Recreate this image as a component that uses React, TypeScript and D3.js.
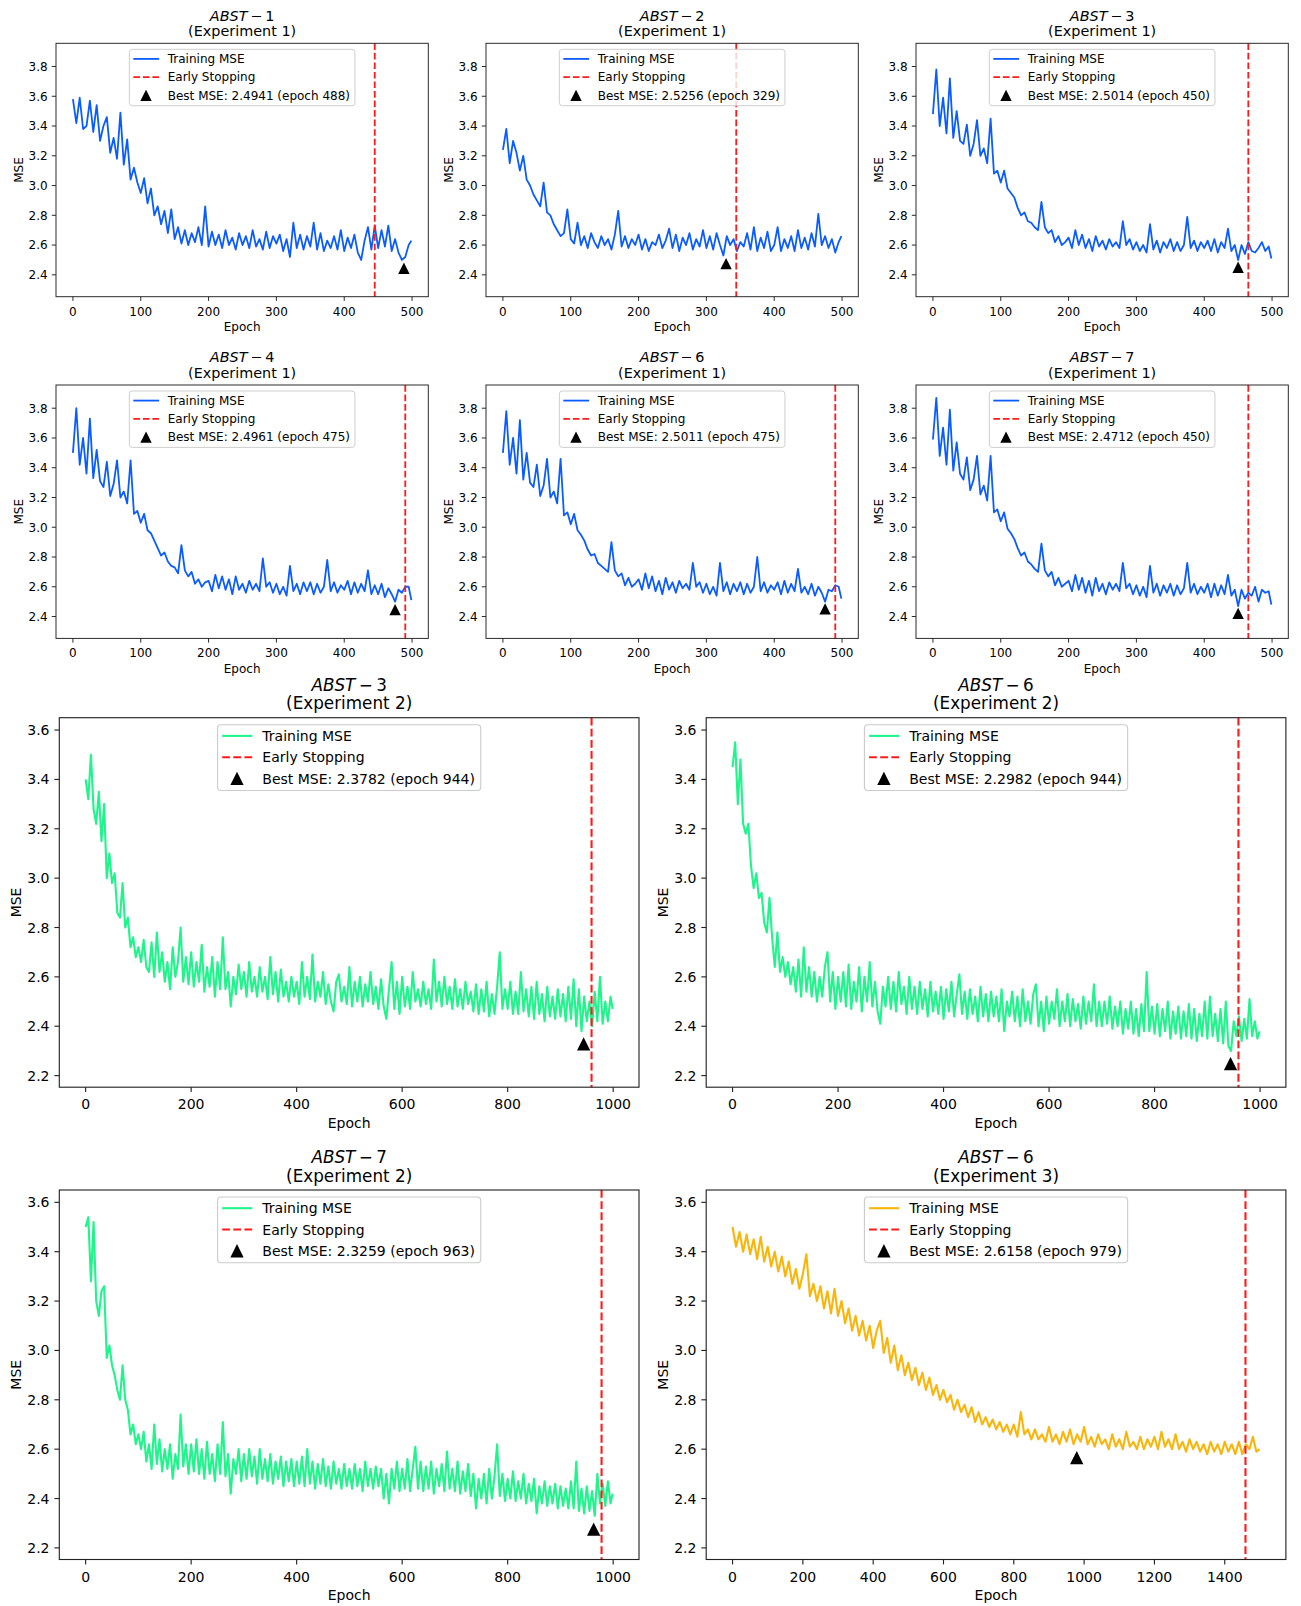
import * as d3 from "d3";

// ---------- data ----------

// Experiment 1, one value every 5 epochs (0..500)
const abst1Exp1 = [
  3.58, 3.42, 3.59, 3.38, 3.40, 3.57, 3.36, 3.54, 3.30, 3.40,
  3.46, 3.22, 3.32, 3.18, 3.49, 3.14, 3.31, 3.04, 3.12, 3.02,
  2.95, 3.05, 2.88, 2.98, 2.80, 2.86, 2.74, 2.83, 2.68, 2.84,
  2.64, 2.72, 2.61, 2.70, 2.60, 2.68, 2.62, 2.72, 2.60, 2.86,
  2.59, 2.69, 2.60, 2.67, 2.58, 2.70, 2.60, 2.65, 2.57, 2.68,
  2.60, 2.66, 2.58, 2.70, 2.59, 2.64, 2.57, 2.69, 2.58, 2.66,
  2.61, 2.67, 2.56, 2.64, 2.52, 2.75, 2.58, 2.67, 2.57, 2.66,
  2.59, 2.75, 2.57, 2.68, 2.56, 2.63, 2.58, 2.66, 2.57, 2.70,
  2.56, 2.65, 2.58, 2.67, 2.55, 2.50, 2.63, 2.72, 2.57, 2.73,
  2.58, 2.70, 2.59, 2.73, 2.56, 2.64, 2.55, 2.50, 2.52, 2.60,
  2.63,
];
const abst2Exp1 = [
  3.24, 3.38, 3.15, 3.30, 3.22, 3.10, 3.20, 3.04, 3.00, 2.94,
  2.90, 2.86, 3.02, 2.82, 2.80, 2.74, 2.70, 2.66, 2.68, 2.84,
  2.64, 2.61, 2.75, 2.60, 2.66, 2.58, 2.68, 2.62, 2.58, 2.66,
  2.60, 2.64, 2.57, 2.67, 2.83, 2.59, 2.66, 2.58, 2.64, 2.60,
  2.67, 2.57, 2.64, 2.56, 2.62, 2.60, 2.67, 2.58, 2.63, 2.71,
  2.58, 2.67, 2.56, 2.65, 2.60, 2.68, 2.57, 2.64, 2.59, 2.70,
  2.58, 2.66, 2.57, 2.68, 2.60, 2.53, 2.66, 2.60, 2.64, 2.56,
  2.62, 2.59, 2.68, 2.57, 2.72, 2.56, 2.65, 2.58, 2.69, 2.56,
  2.60, 2.72, 2.56, 2.64, 2.58, 2.66, 2.56, 2.70, 2.58, 2.65,
  2.57, 2.68, 2.59, 2.81, 2.60, 2.66, 2.58, 2.64, 2.55, 2.62,
  2.66,
];
const abst3Exp1 = [
  3.48, 3.78, 3.40, 3.59, 3.35, 3.72, 3.32, 3.50, 3.30, 3.28,
  3.41, 3.20, 3.28, 3.44, 3.20, 3.25, 3.15, 3.45, 3.08, 3.10,
  3.02, 3.10, 2.98, 2.95, 2.92, 2.85, 2.80, 2.82, 2.76, 2.75,
  2.72, 2.70, 2.89, 2.72, 2.68, 2.70, 2.62, 2.66, 2.60, 2.62,
  2.65, 2.58, 2.70, 2.60, 2.67, 2.58, 2.64, 2.56, 2.66, 2.59,
  2.63, 2.57, 2.64, 2.59, 2.62, 2.58, 2.76, 2.60, 2.64, 2.57,
  2.62, 2.56, 2.60, 2.55, 2.74, 2.57, 2.63, 2.55, 2.62, 2.58,
  2.64, 2.56, 2.62, 2.56, 2.60, 2.79, 2.58, 2.63, 2.56, 2.62,
  2.58, 2.63, 2.56, 2.64, 2.55, 2.62, 2.58, 2.71, 2.56, 2.60,
  2.50, 2.60, 2.54, 2.62, 2.56, 2.55, 2.58, 2.62, 2.56, 2.59,
  2.51,
];
const abst4Exp1 = [
  3.50, 3.80, 3.42, 3.60, 3.36, 3.73, 3.33, 3.52, 3.31, 3.27,
  3.44, 3.21, 3.29, 3.45, 3.20, 3.24, 3.16, 3.45, 3.09, 3.11,
  3.03, 3.09, 2.98, 2.96, 2.91, 2.86, 2.81, 2.83, 2.77, 2.74,
  2.73, 2.69, 2.88, 2.71, 2.67, 2.70, 2.62, 2.65, 2.60, 2.63,
  2.64, 2.57, 2.68, 2.59, 2.67, 2.58, 2.65, 2.55, 2.67, 2.58,
  2.62, 2.56, 2.64, 2.58, 2.62, 2.57, 2.79, 2.60, 2.63, 2.56,
  2.62, 2.55, 2.60, 2.54, 2.74, 2.57, 2.62, 2.55, 2.63, 2.57,
  2.63, 2.55, 2.62, 2.56, 2.60, 2.78, 2.57, 2.63, 2.56, 2.61,
  2.58, 2.64, 2.55, 2.63, 2.56, 2.62, 2.57, 2.71, 2.55, 2.61,
  2.55, 2.62, 2.53, 2.59, 2.55, 2.50, 2.58, 2.56, 2.60, 2.60,
  2.51,
];
const abst6Exp1 = [
  3.50, 3.78, 3.42, 3.60, 3.36, 3.72, 3.32, 3.50, 3.30, 3.27,
  3.42, 3.21, 3.28, 3.46, 3.20, 3.24, 3.16, 3.46, 3.08, 3.10,
  3.02, 3.09, 2.98, 2.95, 2.91, 2.85, 2.81, 2.82, 2.76, 2.74,
  2.72, 2.70, 2.90, 2.71, 2.67, 2.69, 2.61, 2.66, 2.60, 2.62,
  2.65, 2.58, 2.69, 2.59, 2.67, 2.57, 2.64, 2.55, 2.66, 2.58,
  2.63, 2.56, 2.64, 2.59, 2.62, 2.58, 2.76, 2.60, 2.63, 2.56,
  2.62, 2.55, 2.60, 2.54, 2.76, 2.57, 2.63, 2.55, 2.62, 2.57,
  2.63, 2.55, 2.62, 2.56, 2.60, 2.80, 2.57, 2.63, 2.56, 2.61,
  2.58, 2.63, 2.55, 2.64, 2.56, 2.62, 2.57, 2.72, 2.56, 2.60,
  2.55, 2.62, 2.54, 2.60, 2.56, 2.50, 2.58, 2.57, 2.61, 2.60,
  2.52,
];
const abst7Exp1 = [
  3.59, 3.87, 3.48, 3.67, 3.42, 3.79, 3.38, 3.57, 3.36, 3.32,
  3.47, 3.25, 3.32, 3.48, 3.22, 3.28, 3.18, 3.48, 3.10, 3.12,
  3.04, 3.10, 2.99, 2.96, 2.92, 2.86, 2.81, 2.83, 2.77, 2.75,
  2.72, 2.70, 2.89, 2.71, 2.67, 2.70, 2.61, 2.66, 2.60, 2.62,
  2.64, 2.57, 2.68, 2.58, 2.66, 2.56, 2.64, 2.54, 2.66, 2.57,
  2.62, 2.55, 2.63, 2.58, 2.62, 2.57, 2.76, 2.59, 2.62, 2.55,
  2.61, 2.54, 2.60, 2.53, 2.74, 2.56, 2.62, 2.54, 2.61, 2.56,
  2.62, 2.54, 2.61, 2.55, 2.59, 2.76, 2.56, 2.62, 2.55, 2.60,
  2.56, 2.62, 2.53, 2.62, 2.54, 2.61, 2.55, 2.68, 2.54, 2.58,
  2.47, 2.58, 2.52, 2.56, 2.54, 2.60, 2.50, 2.58, 2.56, 2.57,
  2.48,
];

// Experiment 2, one value every 5 epochs (0..1000)
const abst3Exp2 = [
  3.40, 3.32, 3.50, 3.28, 3.22, 3.35, 3.15, 3.30, 3.00, 3.10, 2.98, 3.02, 2.86, 2.84, 2.98, 2.80, 2.84, 2.72, 2.76, 2.68,
  2.72, 2.66, 2.75, 2.64, 2.62, 2.74, 2.60, 2.78, 2.62, 2.70, 2.58, 2.66, 2.55, 2.72, 2.60, 2.66, 2.80, 2.58, 2.68, 2.57,
  2.70, 2.56, 2.66, 2.58, 2.73, 2.54, 2.64, 2.56, 2.68, 2.52, 2.66, 2.55, 2.76, 2.55, 2.62, 2.48, 2.60, 2.53, 2.65, 2.55,
  2.62, 2.52, 2.66, 2.54, 2.60, 2.52, 2.64, 2.54, 2.60, 2.51, 2.68, 2.53, 2.62, 2.50, 2.63, 2.52, 2.58, 2.50, 2.60, 2.52,
  2.58, 2.49, 2.66, 2.52, 2.60, 2.51, 2.69, 2.50, 2.58, 2.52, 2.62, 2.49, 2.57, 2.50, 2.46, 2.58, 2.61, 2.50, 2.56, 2.49,
  2.64, 2.48, 2.58, 2.50, 2.60, 2.48, 2.57, 2.50, 2.62, 2.49, 2.56, 2.47, 2.59, 2.48, 2.43, 2.55, 2.66, 2.47, 2.58, 2.45,
  2.60, 2.48, 2.56, 2.47, 2.62, 2.50, 2.55, 2.48, 2.58, 2.49, 2.55, 2.47, 2.67, 2.50, 2.58, 2.48, 2.60, 2.49, 2.56, 2.47,
  2.59, 2.48, 2.55, 2.47, 2.58, 2.49, 2.54, 2.46, 2.57, 2.45, 2.55, 2.46, 2.58, 2.44, 2.53, 2.45, 2.56, 2.70, 2.47, 2.55,
  2.47, 2.58, 2.45, 2.54, 2.45, 2.62, 2.46, 2.55, 2.44, 2.56, 2.43, 2.58, 2.45, 2.53, 2.42, 2.56, 2.44, 2.52, 2.43, 2.55,
  2.44, 2.53, 2.42, 2.56, 2.43, 2.59, 2.40, 2.55, 2.38, 2.52, 2.42, 2.50, 2.40, 2.54, 2.42, 2.60, 2.41, 2.50, 2.42, 2.52,
  2.47,
];
const abst6Exp2 = [
  3.45, 3.55, 3.30, 3.48, 3.22, 3.18, 3.22, 3.05, 2.96, 3.02, 2.92, 2.94, 2.82, 2.78, 2.92, 2.76, 2.64, 2.78, 2.62, 2.68,
  2.60, 2.66, 2.57, 2.64, 2.54, 2.67, 2.52, 2.72, 2.54, 2.64, 2.52, 2.62, 2.50, 2.60, 2.52, 2.64, 2.70, 2.50, 2.62, 2.47,
  2.60, 2.50, 2.62, 2.48, 2.65, 2.47, 2.58, 2.50, 2.64, 2.46, 2.60, 2.50, 2.66, 2.48, 2.58, 2.46, 2.41, 2.56, 2.48, 2.60,
  2.47, 2.58, 2.46, 2.62, 2.49, 2.56, 2.45, 2.60, 2.47, 2.56, 2.45, 2.58, 2.47, 2.55, 2.44, 2.58, 2.46, 2.54, 2.45, 2.56,
  2.43, 2.55, 2.46, 2.58, 2.44, 2.53, 2.61, 2.45, 2.54, 2.43, 2.55, 2.45, 2.52, 2.42, 2.56, 2.44, 2.53, 2.42, 2.54, 2.44,
  2.52, 2.42, 2.55, 2.38, 2.50, 2.44, 2.54, 2.42, 2.52, 2.40, 2.55, 2.42, 2.50, 2.41, 2.53, 2.57, 2.40, 2.50, 2.38, 2.52,
  2.41, 2.50, 2.43, 2.55, 2.40, 2.50, 2.42, 2.53, 2.40, 2.51, 2.42, 2.49, 2.39, 2.52, 2.41, 2.50, 2.42, 2.57, 2.40, 2.50,
  2.40, 2.50, 2.41, 2.52, 2.39, 2.48, 2.40, 2.50, 2.37, 2.47, 2.39, 2.50, 2.37, 2.47, 2.36, 2.49, 2.38, 2.62, 2.38, 2.48,
  2.37, 2.49, 2.36, 2.47, 2.38, 2.50, 2.35, 2.46, 2.37, 2.48, 2.35, 2.46, 2.36, 2.49, 2.35, 2.47, 2.34, 2.45, 2.36, 2.50,
  2.35, 2.52, 2.36, 2.45, 2.34, 2.47, 2.33, 2.50, 2.32, 2.30, 2.42, 2.36, 2.44, 2.34, 2.43, 2.35, 2.51, 2.36, 2.42, 2.35,
  2.38,
];
const abst7Exp2 = [
  3.50, 3.54, 3.28, 3.52, 3.20, 3.14, 3.24, 3.26, 2.97, 3.02, 2.94, 2.90, 2.84, 2.80, 2.94, 2.80, 2.76, 2.66, 2.70, 2.62,
  2.66, 2.60, 2.67, 2.55, 2.62, 2.52, 2.70, 2.54, 2.64, 2.51, 2.60, 2.52, 2.62, 2.48, 2.58, 2.52, 2.74, 2.53, 2.62, 2.50,
  2.62, 2.51, 2.64, 2.50, 2.60, 2.48, 2.63, 2.50, 2.58, 2.47, 2.62, 2.50, 2.71, 2.49, 2.58, 2.42, 2.56, 2.50, 2.60, 2.47,
  2.58, 2.48, 2.60, 2.49, 2.57, 2.46, 2.60, 2.48, 2.56, 2.47, 2.58, 2.46, 2.55, 2.48, 2.57, 2.45, 2.55, 2.47, 2.56, 2.45,
  2.55, 2.46, 2.57, 2.45, 2.60, 2.46, 2.55, 2.44, 2.54, 2.46, 2.56, 2.45, 2.53, 2.44, 2.55, 2.46, 2.52, 2.44, 2.54, 2.45,
  2.52, 2.44, 2.54, 2.45, 2.52, 2.43, 2.55, 2.45, 2.52, 2.44, 2.53, 2.45, 2.52, 2.40, 2.50, 2.38, 2.52, 2.44, 2.55, 2.43,
  2.52, 2.44, 2.56, 2.43, 2.52, 2.61, 2.44, 2.55, 2.43, 2.53, 2.44, 2.55, 2.42, 2.52, 2.45, 2.54, 2.43, 2.59, 2.44, 2.52,
  2.43, 2.55, 2.42, 2.51, 2.43, 2.54, 2.41, 2.50, 2.36, 2.48, 2.40, 2.50, 2.38, 2.52, 2.40, 2.49, 2.62, 2.41, 2.50, 2.39,
  2.48, 2.40, 2.51, 2.39, 2.47, 2.40, 2.50, 2.38, 2.46, 2.39, 2.48, 2.34, 2.45, 2.38, 2.47, 2.37, 2.45, 2.38, 2.46, 2.36,
  2.45, 2.37, 2.44, 2.36, 2.47, 2.36, 2.55, 2.35, 2.44, 2.34, 2.45, 2.35, 2.43, 2.33, 2.50, 2.38, 2.46, 2.37, 2.47, 2.38,
  2.42,
];

// Experiment 3, one value every 10 epochs (0..1500)
const abst6Exp3 = [
  3.50, 3.42, 3.48, 3.40, 3.47, 3.39, 3.45, 3.37, 3.46, 3.36,
  3.42, 3.34, 3.40, 3.32, 3.38, 3.30, 3.36, 3.27, 3.33, 3.25,
  3.31, 3.39, 3.22, 3.27, 3.20, 3.26, 3.17, 3.24, 3.15, 3.25,
  3.14, 3.20, 3.11, 3.17, 3.08, 3.14, 3.06, 3.12, 3.04, 3.10,
  3.01, 3.08, 3.12, 2.99, 3.05, 2.95, 3.02, 2.92, 2.98, 2.90,
  2.95, 2.88, 2.93, 2.86, 2.91, 2.84, 2.89, 2.82, 2.86, 2.80,
  2.84, 2.79, 2.82, 2.76, 2.80, 2.75, 2.78, 2.73, 2.77, 2.71,
  2.75, 2.70, 2.73, 2.69, 2.72, 2.68, 2.71, 2.67, 2.70, 2.66,
  2.70, 2.65, 2.75, 2.66, 2.68, 2.64, 2.68, 2.64, 2.66, 2.63,
  2.69, 2.63, 2.66, 2.62, 2.67, 2.63, 2.68, 2.62, 2.66, 2.63,
  2.69, 2.62, 2.65, 2.61, 2.66, 2.62, 2.64, 2.60, 2.66, 2.61,
  2.64, 2.60, 2.67, 2.61, 2.63, 2.60, 2.65, 2.60, 2.64, 2.61,
  2.65, 2.60, 2.67, 2.61, 2.64, 2.60, 2.66, 2.60, 2.63, 2.59,
  2.64, 2.60, 2.63, 2.59, 2.62, 2.58, 2.63, 2.59, 2.62, 2.58,
  2.63, 2.59, 2.62, 2.58, 2.63, 2.58, 2.62, 2.60, 2.65, 2.59,
  2.60,
];

const panelNames = ["1", "2", "3", "4", "6", "7", "3", "6", "7", "6"];
const experiments = [1, 1, 1, 1, 1, 1, 2, 2, 2, 3];
const seriesList = [
  abst1Exp1, abst2Exp1, abst3Exp1, abst4Exp1, abst6Exp1, abst7Exp1,
  abst3Exp2, abst6Exp2, abst7Exp2, abst6Exp3,
];
const epochSteps = [5, 5, 5, 5, 5, 5, 5, 5, 5, 10];
const lastEpochs = [499, 499, 499, 499, 499, 499, 999, 999, 999, 1499];
const stopEpochs = [445, 344, 465, 490, 490, 465, 959, 959, 978, 1459];
const bestEpochs = [488, 329, 450, 475, 475, 450, 944, 944, 963, 979];
const bestMse = [2.4941, 2.5256, 2.5014, 2.4961, 2.5011, 2.4712, 2.3782, 2.2982, 2.3259, 2.6158];
const markerOffset = 0.05;

const topYTicks = [2.4, 2.6, 2.8, 3.0, 3.2, 3.4, 3.6, 3.8];
const bottomYTicks = [2.2, 2.4, 2.6, 2.8, 3.0, 3.2, 3.4, 3.6];
const xTicks500 = [0, 100, 200, 300, 400, 500];
const xTicks1000 = [0, 200, 400, 600, 800, 1000];
const xTicks1500 = [0, 200, 400, 600, 800, 1000, 1200, 1400];

// ---------- styling / layout ----------
const FONT = "DejaVu Sans, sans-serif";
const BLUE = "#0a5cff";
const GREEN = "#1ff58b";
const ORANGE = "#f9b50c";
const RED = "#ff1a1a";

type Frame = {
  left: number;
  top: number;
  width: number;
  height: number;
  s: number; // px per pt
  xDomain: [number, number];
  yDomain: [number, number];
  xTicks: number[];
  yTicks: number[];
  color: string;
};

const topCols = [56, 486, 916];
const topRows = [43.3, 385];
const bottomCols = [59.3, 706.2];
const bottomRows = [717.7, 1190];

function frameFor(i: number): Frame {
  if (i < 6) {
    return {
      left: topCols[i % 3],
      top: topRows[Math.floor(i / 3)],
      width: 372.3,
      height: 253.4,
      s: 1.2,
      xDomain: [-24.95, 523.95],
      yDomain: [2.253, 3.956],
      xTicks: xTicks500,
      yTicks: topYTicks,
      color: BLUE,
    };
  }
  const k = i - 6;
  return {
    left: bottomCols[k % 2],
    top: bottomRows[Math.floor(k / 2)],
    width: 579.7,
    height: 369.5,
    s: 1.4,
    xDomain: i === 9 ? [-74.95, 1573.95] : [-49.95, 1048.95],
    yDomain: [2.153, 3.65],
    xTicks: i === 9 ? xTicks1500 : xTicks1000,
    yTicks: bottomYTicks,
    color: i === 9 ? ORANGE : GREEN,
  };
}

function Triangle({ cx, cy, h }: { cx: number; cy: number; h: number }) {
  const p = d3.path();
  p.moveTo(cx, cy - h);
  p.lineTo(cx - h, cy + h);
  p.lineTo(cx + h, cy + h);
  p.closePath();
  return <path d={p.toString()} fill="#000" />;
}

function Panel({ i }: { i: number }) {
  const f = frameFor(i);
  const { left, top, width, height, s } = f;
  const bottom = top + height;
  const x = d3.scaleLinear().domain(f.xDomain).range([left, left + width]);
  const y = d3.scaleLinear().domain(f.yDomain).range([bottom, top]);
  const step = epochSteps[i];
  const line = d3
    .line<number>()
    .x((_, k) => x(Math.min(k * step, lastEpochs[i])))
    .y((d) => y(d));

  const fs = 10 * s;
  const tick = 3.5 * s;
  const lw = 1.5 * s;
  const dash = `${5.55 * s},${2.4 * s}`;
  const cx = left + width / 2;

  // legend
  const boxW = 188 * s;
  const boxH = 47 * s;
  const bx = cx - boxW / 2;
  const by = top + 5 * s;
  const rows = [8, 23.2, 38.4].map((r) => by + r * s);
  const labels = [
    "Training MSE",
    "Early Stopping",
    `Best MSE: ${bestMse[i].toFixed(4)} (epoch ${bestEpochs[i]})`,
  ];
  const markerHalf = 4.75 * s;

  return (
    <g fontFamily={FONT}>
      <text x={cx} y={top - 19 * s} textAnchor="middle" fontSize={12 * s} fill="#000">
        <tspan fontStyle="italic">ABST</tspan>
        <tspan>{`\u2009\u2212\u2009${panelNames[i]}`}</tspan>
      </text>
      <text x={cx} y={top - 5.9 * s} textAnchor="middle" fontSize={12 * s} fill="#000">
        {`(Experiment ${experiments[i]})`}
      </text>

      <path
        d={line(seriesList[i]) ?? undefined}
        fill="none"
        stroke={f.color}
        strokeWidth={lw}
        strokeLinejoin="round"
      />
      <line
        x1={x(stopEpochs[i])}
        x2={x(stopEpochs[i])}
        y1={top}
        y2={bottom}
        stroke={RED}
        strokeWidth={lw}
        strokeDasharray={dash}
      />
      <Triangle cx={x(bestEpochs[i])} cy={y(bestMse[i] - markerOffset)} h={markerHalf} />

      <rect x={left} y={top} width={width} height={height} fill="none" stroke="#222" strokeWidth={0.8 * s} />

      {f.xTicks.map((t) => (
        <g key={`x${t}`}>
          <line x1={x(t)} x2={x(t)} y1={bottom} y2={bottom + tick} stroke="#222" strokeWidth={0.8 * s} />
          <text x={x(t)} y={bottom + 15.8 * s} textAnchor="middle" fontSize={fs} fill="#000">
            {String(t)}
          </text>
        </g>
      ))}
      {f.yTicks.map((t) => (
        <g key={`y${t}`}>
          <line x1={left - tick} x2={left} y1={y(t)} y2={y(t)} stroke="#222" strokeWidth={0.8 * s} />
          <text x={left - 7 * s} y={y(t)} dy="0.36em" textAnchor="end" fontSize={fs} fill="#000">
            {t.toFixed(1)}
          </text>
        </g>
      ))}
      <text x={cx} y={bottom + 28.8 * s} textAnchor="middle" fontSize={fs} fill="#000">
        Epoch
      </text>
      <text
        transform={`translate(${left - 27.3 * s},${(top + bottom) / 2}) rotate(-90)`}
        textAnchor="middle"
        fontSize={fs}
        fill="#000"
      >
        MSE
      </text>

      <rect
        x={bx}
        y={by}
        width={boxW}
        height={boxH}
        rx={2.5 * s}
        fill="#fff"
        fillOpacity={0.8}
        stroke="#ccc"
        strokeWidth={0.8 * s}
      />
      <line x1={bx + 3.3 * s} x2={bx + 24.8 * s} y1={rows[0]} y2={rows[0]} stroke={f.color} strokeWidth={lw} />
      <line
        x1={bx + 3.3 * s}
        x2={bx + 24.8 * s}
        y1={rows[1]}
        y2={rows[1]}
        stroke={RED}
        strokeWidth={lw}
        strokeDasharray={dash}
      />
      <Triangle cx={bx + 13.9 * s} cy={rows[2]} h={markerHalf} />
      {labels.map((l, k) => (
        <text key={l} x={bx + 32 * s} y={rows[k]} dy="0.36em" fontSize={fs} fill="#000">
          {l}
        </text>
      ))}
    </g>
  );
}

export default function App() {
  return (
    <svg
      width={1301}
      height={1606}
      style={{ position: "absolute", left: 0, top: 0, background: "#fff" }}
    >
      <rect width={1301} height={1606} fill="#fff" />
      {seriesList.map((_, i) => (
        <Panel key={i} i={i} />
      ))}
    </svg>
  );
}
